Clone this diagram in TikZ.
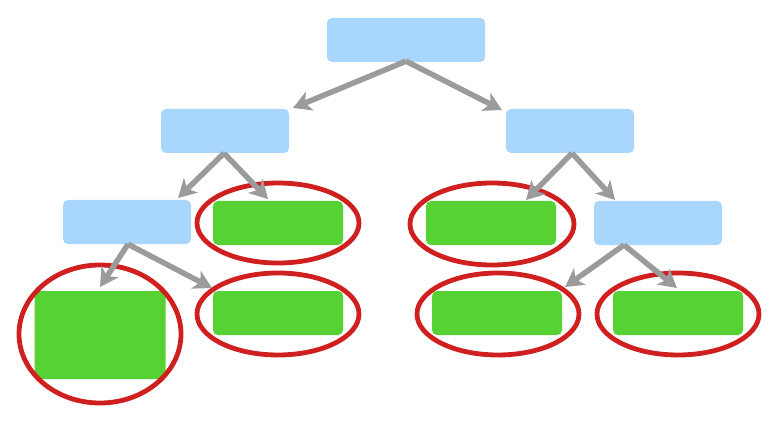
\documentclass[tikz,border=0pt]{standalone}
\usetikzlibrary{arrows.meta}
\definecolor{boxblue}{HTML}{A9D6FC}
\definecolor{leafgreen}{HTML}{56D234}
\definecolor{ringred}{HTML}{CF1F1F}
\definecolor{linkgray}{HTML}{9B9B9B}
\begin{document}
\begin{tikzpicture}[x=1pt,y=-1pt,
  inner/.style={fill=boxblue,rounded corners=5pt,minimum width=128pt,minimum height=44pt,inner sep=0pt},
  leaf/.style={fill=leafgreen,rounded corners=5pt,minimum width=130pt,minimum height=44pt,inner sep=0pt},
  link/.style={draw=linkgray,line width=5.5pt,-{Stealth[length=18pt,width=20pt,inset=5pt]}},
  ring/.style={draw=ringred,line width=4.8pt}]
\useasboundingbox (0,0) rectangle (784,422);
% internal nodes
\node[inner,minimum width=158pt] (root) at (406,40) {};
\node[inner] (l) at (225,131) {};
\node[inner] (r) at (570,131) {};
\node[inner] (ll) at (127,222) {};
\node[inner] (rr) at (658,223) {};
% leaves
\node[leaf] (lr) at (278,223) {};
\node[leaf,minimum width=131pt,minimum height=88pt] (lll) at (100,335) {};
\node[leaf] (llr) at (278,313) {};
\node[leaf] (rl) at (491,223) {};
\node[leaf] (rrl) at (497,313) {};
\node[leaf] (rrr) at (678,313) {};
% rings around the leaves
\draw[ring] (lr) ellipse [x radius=81, y radius=40];
\draw[ring] ([yshift=1pt]lll) ellipse [x radius=81, y radius=69];
\draw[ring] ([yshift=-1pt]llr) ellipse [x radius=81, y radius=41];
\draw[ring] ([xshift=1pt,yshift=-1pt]rl) ellipse [x radius=82, y radius=41];
\draw[ring] ([xshift=1pt,yshift=-1pt]rrl) ellipse [x radius=81, y radius=41];
\draw[ring] ([yshift=-1pt]rrr) ellipse [x radius=81, y radius=41];
% arrow end points
\coordinate (tl) at (293,108);
\coordinate (tr) at (502,110);
\coordinate (la) at (178,198);
\coordinate (lb) at (268,199);
\coordinate (ra) at (526,200);
\coordinate (rb) at (615,200);
\coordinate (lla) at (100,287);
\coordinate (llb) at (212,288);
\coordinate (rra) at (565,287);
\coordinate (rrb) at (677,288);
\coordinate (rrs) at (624,245);
% links
\draw[link] ([yshift=1pt]root.south) -- (tl);
\draw[link] ([yshift=1pt]root.south) -- (tr);
\draw[link] ([xshift=-1pt]l.south) -- (la);
\draw[link] ([xshift=-1pt]l.south) -- (lb);
\draw[link] ([xshift=2pt]r.south) -- (ra);
\draw[link] ([xshift=2pt]r.south) -- (rb);
\draw[link] ([xshift=1pt]ll.south) -- (lla);
\draw[link] ([xshift=1pt]ll.south) -- (llb);
\draw[link] (rrs) -- (rra);
\draw[link] (rrs) -- (rrb);
\end{tikzpicture}
\end{document}
